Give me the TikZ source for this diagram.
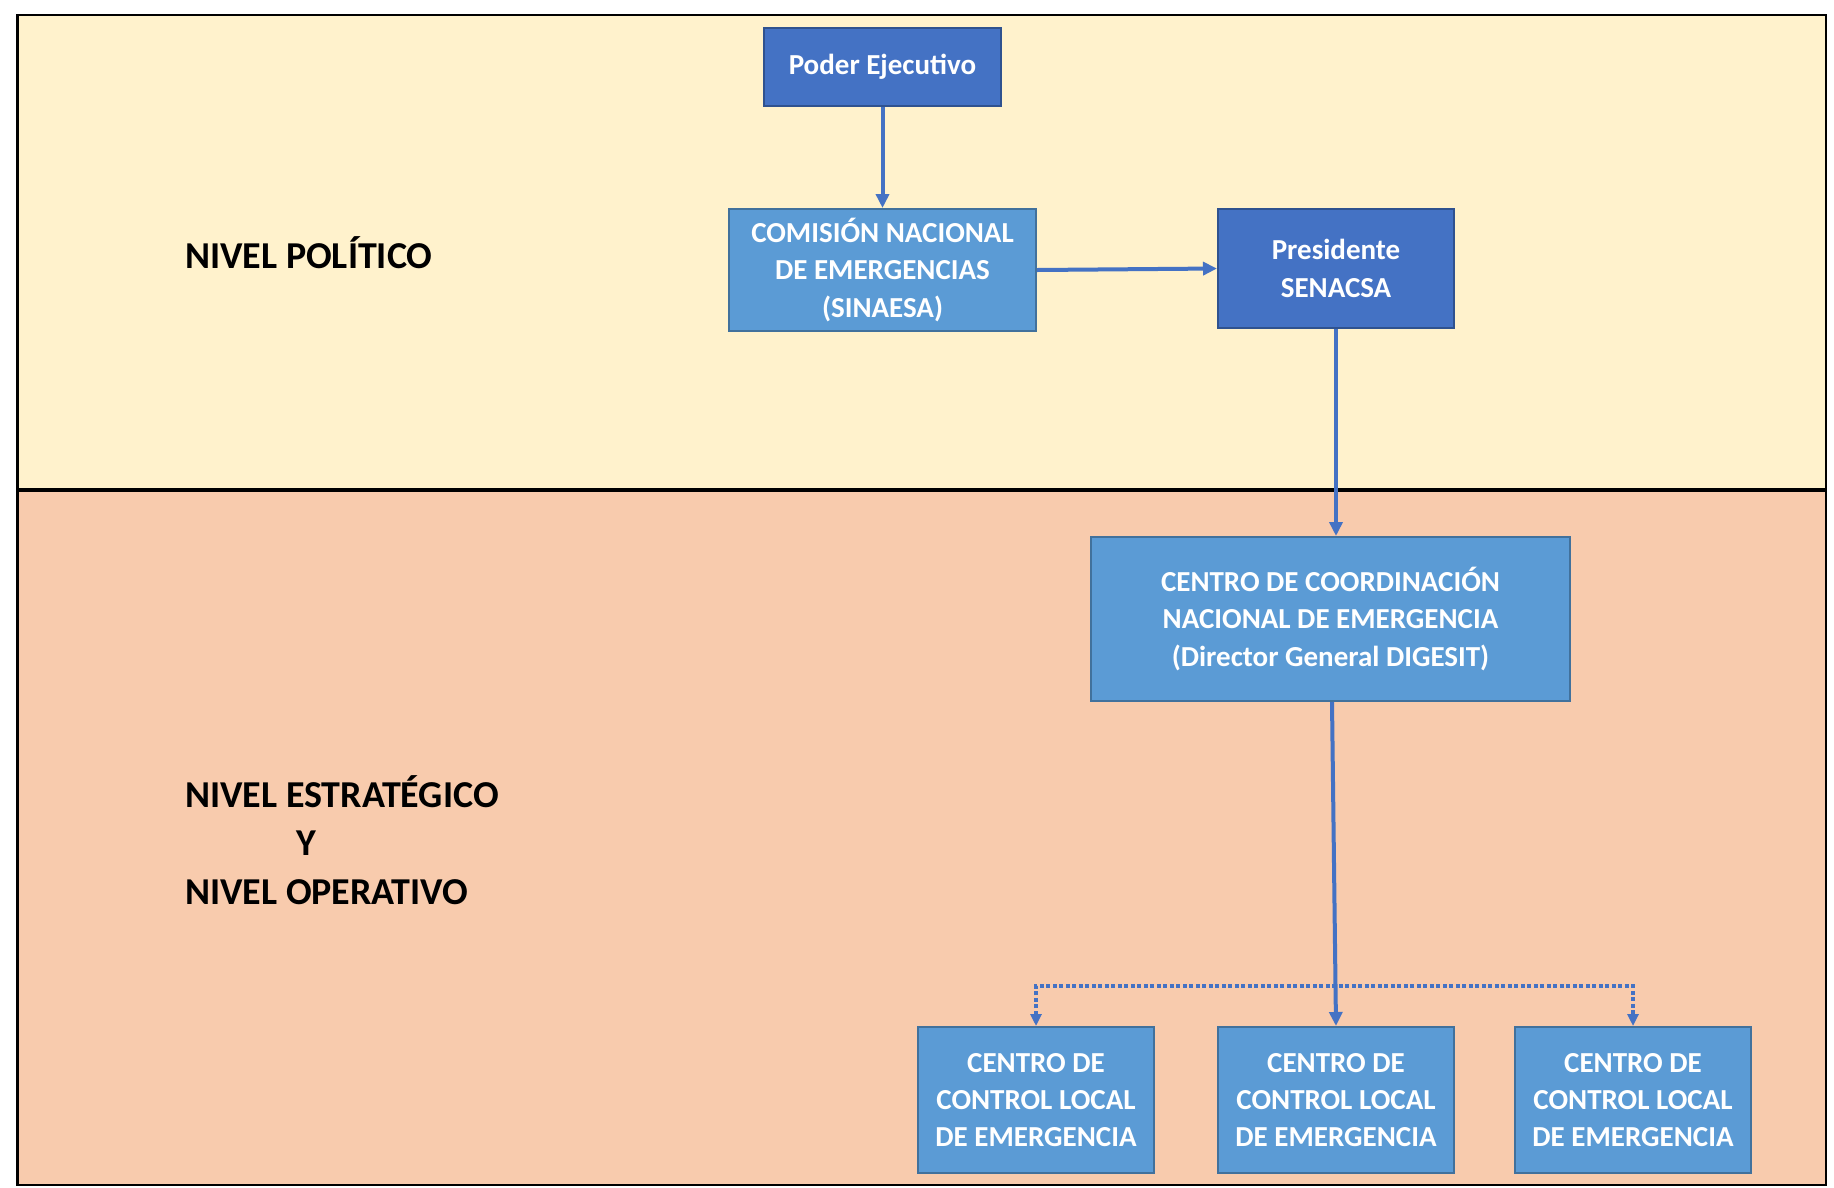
\documentclass[tikz,border=0pt]{standalone}
\usepackage{fontspec}
\setmainfont{Carlito}
\usetikzlibrary{arrows.meta}
\definecolor{bgyellow}{HTML}{FFF2CC}
\definecolor{bgpink}{HTML}{F8CBAD}
\definecolor{darkblue}{HTML}{4472C4}
\definecolor{lightblue}{HTML}{5B9BD5}
\definecolor{lbborder}{HTML}{41719C}
\definecolor{dbborder}{HTML}{2F528F}
\definecolor{arrowblue}{HTML}{4472C4}
\tikzset{
  boxbase/.style={rectangle, inner sep=0pt, align=center, text=white,
    font=\bfseries\fontsize{29}{37.4}\selectfont, line width=2pt},
  darkbox/.style={boxbase, fill=darkblue, draw=dbborder},
  lightbox/.style={boxbase, fill=lightblue, draw=lbborder},
  levellabel/.style={anchor=west, inner sep=0pt, align=left, text=black,
    font=\bfseries\fontsize{38}{48.5}\selectfont},
  conn/.style={draw=arrowblue, line width=4pt, -{Triangle[length=14pt,width=13pt]}},
  dotconn/.style={draw=arrowblue, line width=4pt, dash pattern=on 4pt off 2.5pt},
}
\begin{document}
\begin{tikzpicture}[x=1pt,y=-1pt]
\useasboundingbox (0,0) rectangle (1834,1187);
% background bands
\fill[bgyellow] (17.5,15) rectangle (1826,490);
\fill[bgpink] (17.5,490) rectangle (1826,1185);
\draw[black, line width=2.5pt] (17.5,15) rectangle (1826,1185);
\draw[black, line width=4pt] (17.5,490) -- (1826,490);

% labels
\node[levellabel] (lblpol) at (185,253) {NIVEL POLÍTICO};
\node[levellabel] (lblest) at (185,840) {NIVEL ESTRATÉGICO\\\hspace*{111pt}Y\\NIVEL OPERATIVO};

% boxes
\node[darkbox, minimum width=237pt, minimum height=78pt] (poder) at (882.5,67) {Poder Ejecutivo};
\node[lightbox, minimum width=307pt, minimum height=122pt] (comision) at (882.5,270) {COMISIÓN NACIONAL\\DE EMERGENCIAS\\(SINAESA)};
\node[darkbox, minimum width=236pt, minimum height=119pt] (pres) at (1336,268.5) {Presidente\\SENACSA};
\node[lightbox, minimum width=479pt, minimum height=164pt] (coord) at (1330.5,619) {CENTRO DE COORDINACIÓN\\NACIONAL DE EMERGENCIA\\(Director General DIGESIT)};
\node[lightbox, minimum width=236pt, minimum height=146pt] (c1) at (1036,1100) {CENTRO DE\\CONTROL LOCAL\\DE EMERGENCIA};
\node[lightbox, minimum width=236pt, minimum height=146pt] (c2) at (1336,1100) {CENTRO DE\\CONTROL LOCAL\\DE EMERGENCIA};
\node[lightbox, minimum width=236pt, minimum height=146pt] (c3) at (1633,1100) {CENTRO DE\\CONTROL LOCAL\\DE EMERGENCIA};

% connectors
\draw[conn] (poder) -- (comision);
\draw[conn] (comision.east) -- (pres.west);
\draw[conn] (pres.south) -- (pres.south |- coord.north);
\draw[dotconn, {Triangle[length=12pt,width=11pt]}-{Triangle[length=12pt,width=11pt]}] (c1.north) -- ++(0,-40) -| (c3.north);
\draw[conn] ([xshift=1.5pt]coord.south) -- (c2.north);
\end{tikzpicture}
\end{document}
